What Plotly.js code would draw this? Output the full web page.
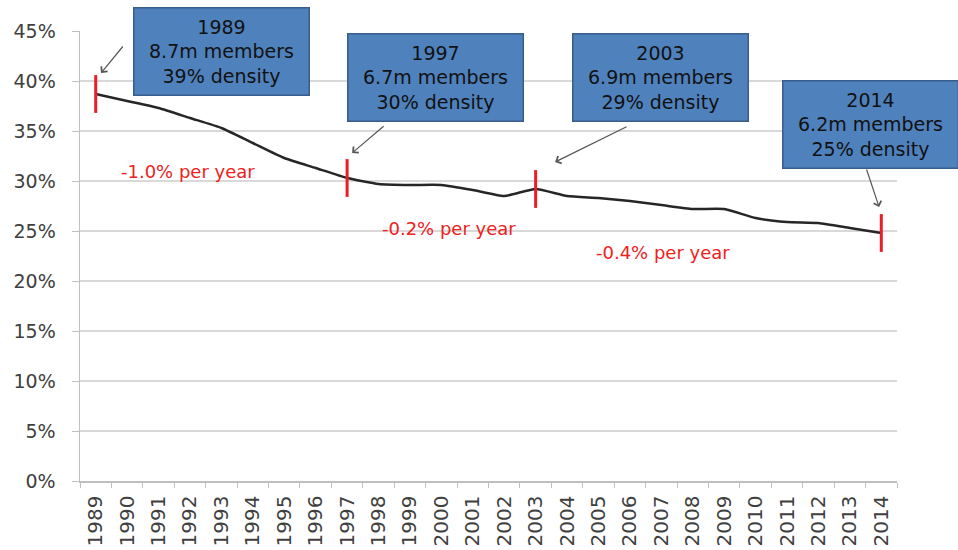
<!DOCTYPE html>
<html>
<head>
<meta charset="utf-8">
<script src="https://cdn.plot.ly/plotly-3.0.1.min.js"></script>
<style>html,body{margin:0;padding:0;background:#fff;}#chart{width:958px;height:550px;}</style>
</head>
<body>
<div id="chart"></div>
<script>
// Data
const years = ['1989','1990','1991','1992','1993','1994','1995','1996','1997','1998','1999','2000','2001','2002','2003','2004','2005','2006','2007','2008','2009','2010','2011','2012','2013','2014'];
const density = [38.7, 38.0, 37.3, 36.3, 35.3, 33.8, 32.3, 31.3, 30.3, 29.7, 29.6, 29.6, 29.1, 28.5, 29.2, 28.5, 28.3, 28.0, 27.6, 27.2, 27.2, 26.3, 25.9, 25.8, 25.3, 24.8];
const markYears = ['1989','1997','2003','2014'];
const markMembers = ['8.7m members','6.7m members','6.9m members','6.2m members'];
const markDensity = ['39% density','30% density','29% density','25% density'];
const trendLabels = ['-1.0% per year','-0.2% per year','-0.4% per year'];

const markVals = markYears.map(y => density[years.indexOf(y)]);

const FONT = 'DejaVu Sans, Arial, sans-serif';

const traces = [
  {
    x: years, y: density, type: 'scatter', mode: 'lines',
    line: {color: '#262626', width: 2.5, shape: 'spline', smoothing: 0.5},
    hoverinfo: 'skip', showlegend: false
  },
  {
    x: markYears, y: markVals, type: 'scatter', mode: 'markers',
    marker: {symbol: 'line-ns', size: 27, color: '#ee1c25', line: {color: '#ee1c25', width: 3}},
    hoverinfo: 'skip', showlegend: false
  }
];

// Box placement (paper coords) and arrow geometry
const boxPos = [[0.1738, 0.954], [0.4357, 0.8967], [0.710, 0.8967], [0.968, 0.793]];
const arrowHead = [[0.17, 40.8], [8.16, 32.8], [14.62, 31.9], [24.93, 27.4]];
const arrowTail = [[23, -28], [33, -28], [73, -36], [-13, -39]];
const trendPos = [[2.935, 31.0], [11.24, 25.3], [18.04, 22.9]];

const annotations = [];
markYears.forEach((y, i) => {
  annotations.push({
    xref: 'paper', yref: 'paper', x: boxPos[i][0], y: boxPos[i][1],
    xanchor: 'center', yanchor: 'middle',
    text: y + '<br>' + markMembers[i] + '<br>' + markDensity[i],
    showarrow: false, align: 'center',
    font: {family: FONT, size: 19, color: '#111111'},
    bgcolor: '#4f81bd', bordercolor: '#385d8a', borderwidth: 1.5,
    width: 172, height: 84, borderpad: 1
  });
  annotations.push({
    xref: 'x', yref: 'y', x: arrowHead[i][0], y: arrowHead[i][1],
    ax: arrowTail[i][0], ay: arrowTail[i][1], axref: 'pixel', ayref: 'pixel',
    text: '', showarrow: true, arrowhead: 4, arrowsize: 1.3, arrowwidth: 1.2,
    arrowcolor: '#555555', standoff: 0
  });
});
trendLabels.forEach((t, i) => {
  annotations.push({
    xref: 'x', yref: 'y', x: trendPos[i][0], y: trendPos[i][1],
    text: t, showarrow: false,
    font: {family: FONT, size: 18, color: '#f0201a'}
  });
});

const layout = {
  width: 958, height: 550,
  margin: {l: 80, r: 61, t: 31, b: 69},
  paper_bgcolor: '#ffffff', plot_bgcolor: '#ffffff',
  showlegend: false,
  xaxis: {
    type: 'category', range: [-0.5, 25.5],
    tickangle: -90, tickson: 'boundaries', ticks: 'outside', ticklen: 5,
    tickcolor: '#bfbfbf', showline: true, linecolor: '#bfbfbf', linewidth: 1.5,
    showgrid: false, zeroline: false, ticklabelstandoff: 5,
    tickfont: {family: FONT, size: 20, color: '#404040'}
  },
  yaxis: {
    range: [0, 45], dtick: 5, ticksuffix: '%',
    ticks: 'outside', ticklen: 7, tickcolor: '#bfbfbf',
    showline: true, linecolor: '#bfbfbf', linewidth: 1.5,
    gridcolor: '#d9d9d9', gridwidth: 1.5, zeroline: false,
    ticklabelstandoff: 12,
    tickfont: {family: FONT, size: 19, color: '#404040'}
  },
  annotations: annotations
};

Plotly.newPlot('chart', traces, layout, {displayModeBar: false, staticPlot: true});
</script>
</body>
</html>
